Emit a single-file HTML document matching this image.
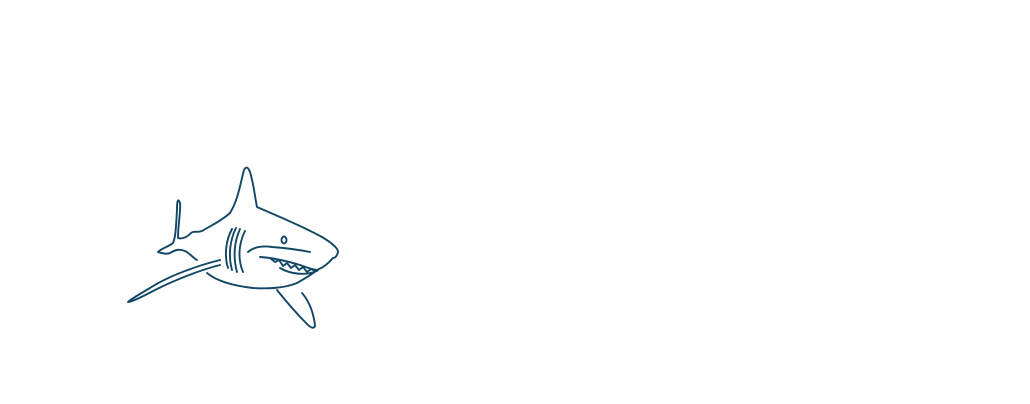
<!DOCTYPE html>
<html><head><style>html,body{margin:0;padding:0;background:#fff;width:1030px;height:404px;overflow:hidden}</style></head>
<body>
<svg width="1030" height="404" viewBox="0 0 1030 404" xmlns="http://www.w3.org/2000/svg">
<g fill="none" stroke="#124766" stroke-width="1.9" stroke-linecap="round" stroke-linejoin="round">
<path d="M230,213 C238,200 240,185 244,170 C246,166 248,167 250,172 C254,185 255,198 257,207 C275,215 300,225 322,237 C332,243 338,248 338,252 C337,256 335,258 333,258"/>
<path d="M230,213 C220,222 210,226 202,231 C197,233 193,230 190,234 C186,238 181,239 178,238 C178,225 181,210 180,203 C178,198 177,200 177,210 C176,225 176,236 173,243 C168,247 162,248 158,252 C163,254 168,254 170,253 C175,250 180,248 187,252 C192,256 195,259 197,260"/>
<path d="M333,258 C328,264 322,268 317,270 C310,276 302,280 297,283 C285,288 270,289 253,288 C235,286 218,282 207,273"/>
<path d="M220,260 C200,265 170,275 150,288 C138,295 130,300 128,302 C131,302 140,298 155,290 C175,280 200,270 220,265"/>
<path d="M277,290 C285,300 295,312 307,324 C311,328 314,329 315,326 C314,315 310,302 302,293"/>
<path d="M232,229 C226,240 224,255 228,268"/>
<path d="M236,228 C230,240 228,255 232,270"/>
<path d="M240,229 C234,242 233,258 237,272"/>
<path d="M245,231 C238,245 238,260 243,272"/>
<ellipse cx="284" cy="240" rx="2.5" ry="3.5"/>
<path d="M248,252 C255,246 265,246 272,247 C285,248 300,250 310,252"/>
<path d="M260,257 C275,258 290,262 300,265 C308,268 314,270 318,270"/>
<path d="M270,258 L275,262 L279,260 L283,266 L287,263 L291,268 L295,265 L299,270 L303,267 L307,272 L311,269 L315,271"/>
<path d="M280,268 C290,274 305,276 317,271"/>
</g>
</svg>
</body></html>
